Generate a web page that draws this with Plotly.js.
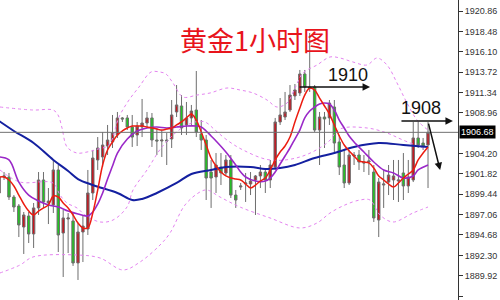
<!DOCTYPE html>
<html><head><meta charset="utf-8">
<script src="https://cdn.plot.ly/plotly-3.0.1.min.js"></script>
<style>html,body{margin:0;padding:0;background:#fff}#c{width:500px;height:300px}</style>
</head><body><div id="c"></div>
<script>
const openP = [1899.59,1901.46,1901.46,1899.12,1898.07,1895.61,1896.90,1894.80,1897.84,1901.11,
1898.42,1898.19,1902.28,1894.91,1896.55,1896.32,1891.41,1895.03,1895.38,1899.59,
1903.45,1903.80,1905.08,1905.55,1906.37,1908.36,1908.36,1907.30,1906.37,1907.30,
1907.77,1908.36,1905.78,1905.67,1905.78,1905.90,1909.06,1909.76,1907.54,1908.36,
1909.29,1906.49,1905.78,1902.04,1901.46,1902.63,1901.93,1903.45,1899.35,1900.29,
1900.64,1900.64,1901.11,1901.58,1902.04,1901.11,1902.63,1907.89,1908.47,1909.29,
1910.93,1911.28,1913.50,1911.98,1911.98,1906.95,1908.47,1908.36,1909.64,1905.55,
1902.86,1900.76,1904.03,1904.03,1903.21,1903.21,1902.04,1896.43,1900.52,1900.87,
1901.11,1900.99,1901.93,1900.41,1901.11,1906.02,1905.43,1905.20];
const highP = [1902.04,1902.04,1901.93,1899.35,1898.30,1897.37,1897.37,1898.42,1902.04,1902.04,
1900.17,1903.45,1902.86,1897.60,1897.25,1897.25,1896.08,1897.02,1902.28,1904.62,
1906.13,1906.72,1907.54,1908.71,1909.06,1908.47,1908.71,1908.71,1907.89,1910.58,
1909.06,1908.94,1907.19,1906.95,1906.60,1910.46,1912.21,1911.04,1910.23,1909.88,
1913.85,1908.12,1906.37,1903.45,1904.26,1904.26,1904.03,1904.03,1899.94,1900.76,
1901.93,1902.04,1901.69,1902.86,1902.51,1903.45,1908.36,1910.69,1911.40,1912.21,
1912.33,1913.97,1913.97,1918.29,1912.21,1909.06,1909.06,1910.46,1910.46,1906.37,
1904.62,1904.62,1904.38,1904.62,1904.03,1904.62,1902.86,1901.34,1902.28,1902.86,
1903.45,1903.45,1904.26,1903.45,1907.89,1907.89,1906.02,1907.89];
const lowP = [1899.24,1901.11,1898.77,1897.37,1894.44,1892.46,1893.74,1893.16,1897.02,1897.84,
1895.96,1897.25,1892.69,1889.77,1892.57,1891.06,1889.42,1891.52,1894.68,1898.77,
1902.28,1902.63,1904.03,1904.85,1906.02,1907.89,1906.95,1904.97,1905.08,1906.13,
1907.19,1904.97,1904.03,1903.80,1902.86,1904.85,1908.47,1906.37,1906.37,1907.54,
1906.13,1904.62,1898.77,1897.84,1899.59,1900.52,1901.69,1899.00,1897.84,1899.94,
1898.54,1899.35,1897.02,1900.17,1899.59,1900.17,1902.28,1907.54,1908.12,1909.06,
1910.46,1910.93,1911.40,1911.40,1906.72,1902.86,1904.85,1907.54,1904.38,1901.69,
1900.17,1900.52,1902.86,1902.28,1902.04,1901.69,1896.20,1894.44,1897.84,1899.35,
1898.77,1898.54,1898.77,1899.59,1900.87,1904.85,1904.62,1900.17];
const closeP = [1901.46,1901.58,1899.12,1897.95,1895.85,1897.02,1894.80,1897.84,1901.11,1898.54,
1898.65,1902.28,1894.68,1896.67,1896.67,1891.41,1895.03,1895.73,1899.59,1903.68,
1904.85,1905.20,1905.78,1906.60,1908.36,1908.24,1907.30,1906.13,1907.42,1907.77,
1908.36,1905.78,1905.67,1905.78,1905.67,1908.71,1909.88,1907.19,1908.36,1909.17,
1906.72,1905.78,1901.34,1901.34,1902.86,1901.93,1903.45,1899.35,1898.77,1900.41,
1900.76,1900.99,1901.58,1902.04,1901.11,1902.86,1907.89,1908.71,1909.06,1911.04,
1911.63,1913.50,1911.98,1911.86,1906.95,1908.47,1908.24,1910.11,1905.43,1902.63,
1900.76,1904.03,1903.91,1903.21,1903.10,1903.33,1896.67,1900.87,1900.64,1901.69,
1901.58,1901.11,1900.41,1901.46,1906.02,1905.20,1905.08,1906.68];

// red short moving average, one value per bar
const maRed = [1901.46,1901.46,1901.11,1900.41,1899.35,1898.30,1897.48,1897.02,1897.48,1897.84,
1898.19,1899.24,1899.12,1898.42,1897.84,1897.02,1896.08,1895.50,1895.50,1897.25,
1899.94,1902.86,1904.62,1905.55,1906.37,1906.84,1907.19,1907.42,1907.42,1907.42,
1907.30,1907.19,1907.07,1906.95,1907.07,1907.19,1907.54,1907.89,1908.36,1908.82,
1908.12,1906.72,1905.20,1903.68,1902.74,1902.04,1901.58,1901.34,1901.22,1901.11,
1900.64,1900.17,1900.52,1900.99,1901.34,1902.28,1903.45,1904.38,1905.08,1906.13,
1907.89,1909.53,1911.04,1911.86,1911.63,1910.69,1909.76,1908.82,1907.54,1906.25,
1905.20,1904.50,1903.91,1903.33,1903.21,1903.10,1902.51,1901.58,1901.11,1900.64,
1900.29,1900.76,1901.34,1901.81,1902.28,1903.45,1904.26,1904.97];

// purple medium moving average (bar index, value)
const maPurpleX = [0,2,4,6,8,10,12,14,16,18,19,20,21,22,23,24,26,28,30,32,34,36,38,40,41,42,43,44,46,48,49,50,52,54,55,56,57,58,59,60,61,62,63,64,65,66,67,68,69,70,71,72,74,76,78,80,82,84,85,87];
const maPurple = [1903.80,1903.45,1900.87,1899.35,1898.65,1898.19,1897.95,1897.48,1897.13,1896.90,1897.37,1898.30,1899.59,1901.22,1902.74,1904.26,1905.90,1906.84,1907.19,1907.30,1907.19,1907.30,1907.42,1907.42,1907.30,1906.84,1906.25,1905.67,1904.38,1902.86,1902.04,1901.46,1900.99,1900.99,1901.34,1902.04,1902.98,1903.91,1904.85,1905.90,1906.95,1908.36,1909.17,1909.64,1909.99,1910.11,1909.99,1909.29,1908.12,1907.19,1906.25,1905.55,1904.38,1903.21,1902.28,1901.93,1901.34,1901.58,1902.28,1902.86];

// blue long moving average
const maBlueX = [0,3,7,11,14,16,19,24,27,29,32,36,39,43,46,51,54,57,60,64,68,72,77,82,87];
const maBlue = [1908.00,1906.84,1905.43,1903.45,1902.16,1901.22,1900.52,1899.59,1898.77,1898.89,1899.59,1900.76,1901.81,1902.28,1902.63,1902.63,1902.39,1902.51,1902.86,1903.68,1904.26,1904.97,1905.43,1905.20,1904.97];

// dotted band lines
const bandUpX = [0.18,6.88,10.93,11.95,12.76,13.77,15.80,17.83,20.06,22.29,24.32,26.35,28.38,30.81,32.64,33.85,35.27,37.30,40.14,42.78,46.23,48.86,51.50,54.34,56.37,58.40,60.02,61.64,64.48,67.12,69.15,71.79,74.62,76.65,78.68,80.71,82.74,84.77,86.99];
const bandUp = [1909.64,1909.29,1909.29,1908.71,1907.19,1904.97,1904.26,1904.38,1904.73,1905.20,1908.47,1910.46,1911.98,1913.73,1913.73,1913.50,1912.45,1910.81,1911.04,1911.28,1911.86,1911.63,1911.28,1910.46,1909.64,1910.11,1911.86,1913.62,1914.55,1915.49,1915.37,1914.90,1914.55,1915.37,1914.55,1912.45,1910.11,1908.12,1906.95];
const bandMidX = [0.18,4.24,10.93,12.35,13.77,15.80,17.42,20.47,23.10,25.94,27.16,30.00,33.04,36.49,39.74,41.77,43.79,46.23,49.47,54.95,61.03,66.51,69.15,74.62,78.68,81.92,86.99];
const bandMid = [1902.28,1900.87,1900.76,1899.35,1898.42,1897.84,1897.02,1896.20,1896.43,1897.95,1899.94,1902.28,1904.97,1906.95,1907.89,1907.89,1906.95,1905.78,1904.62,1903.45,1903.80,1905.43,1907.07,1907.19,1906.60,1905.78,1904.62];
const bandLowX = [0.18,4.24,6.88,15.80,20.47,25.13,28.58,32.64,34.66,37.71,40.75,42.17,44.81,48.86,54.95,61.03,64.48,67.12,70.16,73.20,75.23,77.26,79.90,83.95,86.99];
const bandLow = [1890.24,1891.17,1892.11,1892.34,1891.99,1890.59,1891.52,1893.51,1894.91,1898.19,1899.71,1899.94,1899.12,1897.95,1896.67,1895.50,1896.08,1897.25,1898.19,1898.77,1898.77,1897.02,1896.20,1897.25,1897.95];

const tickVals = [1887.54,1889.92,1892.30,1894.68,1897.06,1899.44,1901.82,1904.20,1908.96,1911.34,1913.72,1916.10,1918.48,1920.86];
const tickText = ['1887.54','1889.92','1892.30','1894.68','1897.06','1899.44','1901.82','1904.20','1908.96','1911.34','1913.72','1916.10','1918.48','1920.86'];
const lastPrice = 1906.68;
const titleText = '黄金1小时图';
const level1 = '1910', level2 = '1908';

const bars = openP.map((_, i) => i);
const dotted = {color:'#e484f0', width:1, dash:'dot', shape:'spline'};

const traces = [
  {type:'candlestick', x:bars, open:openP, high:highP, low:lowP, close:closeP,
   increasing:{line:{color:'#6e6e6e', width:1}, fillcolor:'#c8141e'},
   decreasing:{line:{color:'#6e6e6e', width:1}, fillcolor:'#1ec81e'},
   whiskerwidth:0, hoverinfo:'skip', showlegend:false},
  {type:'scatter', mode:'lines', x:bandUpX, y:bandUp, line:dotted, hoverinfo:'skip'},
  {type:'scatter', mode:'lines', x:bandMidX, y:bandMid, line:dotted, hoverinfo:'skip'},
  {type:'scatter', mode:'lines', x:bandLowX, y:bandLow, line:dotted, hoverinfo:'skip'},
  {type:'scatter', mode:'lines', x:maBlueX, y:maBlue, line:{color:'#1420a0', width:2, shape:'spline'}, hoverinfo:'skip'},
  {type:'scatter', mode:'lines', x:maPurpleX, y:maPurple, line:{color:'#9a28c8', width:1.6, shape:'spline'}, hoverinfo:'skip'},
  {type:'scatter', mode:'lines', x:bars, y:maRed, line:{color:'#ec1c10', width:1.5, shape:'spline'}, hoverinfo:'skip'}
];

const layout = {
  width:500, height:300, margin:{l:0, r:42, t:0, b:0},
  paper_bgcolor:'#ffffff', plot_bgcolor:'#ffffff', showlegend:false,
  xaxis:{range:[0.18, 93.08], visible:false, rangeslider:{visible:false}, fixedrange:true},
  yaxis:{side:'right', range:[1887.08, 1922.15], tickvals:tickVals, ticktext:tickText,
         ticks:'outside', ticklen:4, tickcolor:'#333', showline:true, linecolor:'#333', linewidth:1,
         showgrid:false, zeroline:false, tickfont:{family:'Liberation Sans', size:9, color:'#333'}, fixedrange:true},
  shapes:[{type:'line', xref:'paper', x0:0, x1:1, yref:'y', y0:lastPrice, y1:lastPrice, line:{color:'#707070', width:1}}],
  annotations:[
    {xref:'paper', yref:'paper', x:0.557, y:0.867, xanchor:'center', yanchor:'middle', text:titleText, showarrow:false,
     font:{family:'Noto Sans CJK SC', size:27, color:'#e8141c'}},
    {xref:'paper', yref:'paper', x:0.76, y:0.75, xanchor:'center', yanchor:'middle', text:level1, showarrow:false,
     font:{family:'Liberation Sans', size:18, color:'#111'}},
    {xref:'paper', yref:'paper', x:0.92, y:0.64, xanchor:'center', yanchor:'middle', text:level2, showarrow:false,
     font:{family:'Liberation Sans', size:18, color:'#111'}},
    {xref:'paper', yref:'paper', x:0.808, y:0.71, ax:-72, ay:0, text:'', showarrow:true,
     arrowhead:2, arrowsize:1, arrowwidth:1.5, arrowcolor:'#111'},
    {xref:'paper', yref:'paper', x:0.989, y:0.597, ax:-53, ay:0, text:'', showarrow:true,
     arrowhead:2, arrowsize:1, arrowwidth:1.5, arrowcolor:'#111'},
    {xref:'paper', yref:'paper', x:0.961, y:0.433, ax:-12, ay:-48, text:'', showarrow:true,
     arrowhead:2, arrowsize:1, arrowwidth:1.5, arrowcolor:'#111'},
    {xref:'paper', yref:'y', x:1, y:lastPrice, xanchor:'left', yanchor:'middle', xshift:1, text:lastPrice.toFixed(2), showarrow:false,
     bgcolor:'#000', borderpad:1, font:{family:'Liberation Sans', size:9, color:'#fff'}}
  ]
};

Plotly.newPlot('c', traces, layout, {staticPlot:true, displayModeBar:false});
</script></body></html>
